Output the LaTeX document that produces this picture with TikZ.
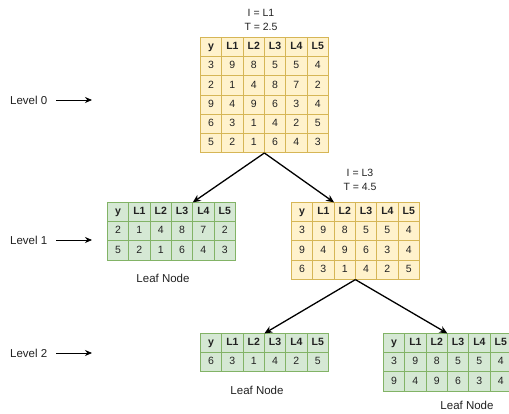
\documentclass[tikz,border=0pt]{standalone}
\usepackage{fontspec}
\setmainfont{Liberation Sans}
\usetikzlibrary{matrix,arrows.meta}
\definecolor{yfill}{HTML}{FFF2CC}
\definecolor{ydraw}{HTML}{D6B656}
\definecolor{gfill}{HTML}{D5E8D4}
\definecolor{gdraw}{HTML}{82B366}
\definecolor{txt}{HTML}{222222}
\tikzset{
  tbl/.style={matrix of nodes, nodes in empty cells, inner sep=0pt, outer sep=0pt,
    column sep=-0.8pt, row sep=-0.8pt, anchor=north west,
    nodes={anchor=center, minimum width=21.33pt, minimum height=19.2pt, inner sep=0pt, outer sep=0pt,
      text height=7.5pt, text depth=2pt,
      font=\fontsize{10.5}{12}\selectfont, line width=0.8pt, text=txt},
    row 1/.style={nodes={font=\fontsize{10.5}{12}\selectfont\bfseries}}},
  ytbl/.style={tbl, nodes={fill=yfill, draw=ydraw}},
  gtbl/.style={tbl, nodes={fill=gfill, draw=gdraw}},
  title/.style={align=center, font=\fontsize{10.5}{13.5}\selectfont, text=txt, inner sep=0pt},
  lbl/.style={font=\fontsize{11.5}{13}\selectfont, text=txt, inner sep=0pt},
  treearrow/.style={line width=1.3pt, -{Stealth[length=8pt,width=7pt]}},
  levarrow/.style={line width=0.8pt, shorten <=9pt, -{Stealth[length=7pt,width=6pt]}}
}
\begin{document}
\begin{tikzpicture}[x=1pt,y=-1pt]
\useasboundingbox[fill=white] (0,0) rectangle (509,414);

% titles
\node[title] (ti0) at (261,20) {I = L1\\T = 2.5};
\node[title] (ti2) at (360,180) {I = L3\\T = 4.5};

% tables
\matrix[ytbl] (t0) at (200,37) {
y & L1 & L2 & L3 & L4 & L5\\
3 & 9 & 8 & 5 & 5 & 4\\
2 & 1 & 4 & 8 & 7 & 2\\
9 & 4 & 9 & 6 & 3 & 4\\
6 & 3 & 1 & 4 & 2 & 5\\
5 & 2 & 1 & 6 & 4 & 3\\
};
\matrix[gtbl] (t1) at (107,202) {
y & L1 & L2 & L3 & L4 & L5\\
2 & 1 & 4 & 8 & 7 & 2\\
5 & 2 & 1 & 6 & 4 & 3\\
};
\matrix[ytbl] (t2) at (291,202) {
y & L1 & L2 & L3 & L4 & L5\\
3 & 9 & 8 & 5 & 5 & 4\\
9 & 4 & 9 & 6 & 3 & 4\\
6 & 3 & 1 & 4 & 2 & 5\\
};
\matrix[gtbl] (t3) at (200,333) {
y & L1 & L2 & L3 & L4 & L5\\
6 & 3 & 1 & 4 & 2 & 5\\
};
\matrix[gtbl] (t4) at (383,333) {
y & L1 & L2 & L3 & L4 & L5\\
3 & 9 & 8 & 5 & 5 & 4\\
9 & 4 & 9 & 6 & 3 & 4\\
};

% leaf labels
\node[lbl] (leaf1) at (163,278) {Leaf Node};
\node[lbl] (leaf3) at (257,390) {Leaf Node};
\node[lbl] (leaf4) at (467,405) {Leaf Node};

% level labels
\node[lbl, anchor=west] (lv0) at (10,100) {Level 0};
\node[lbl, anchor=west] (lv1) at (10,240) {Level 1};
\node[lbl, anchor=west] (lv2) at (10,353) {Level 2};
\coordinate (lv0e) at (92,100);
\coordinate (lv1e) at (92,240);
\coordinate (lv2e) at (92,353);
\draw[levarrow] (lv0.east) -- (lv0e);
\draw[levarrow] (lv1.east) -- (lv1e);
\draw[levarrow] (lv2.east) -- (lv2e);

% tree arrows
\draw[treearrow] (t0.south) -- (t1-1-5.north west);
\draw[treearrow] (t0.south) -- (t2-1-3.north west);
\draw[treearrow] (t2.south) -- (t3-1-4.north west);
\draw[treearrow] (t2.south) -- (t4-1-4.north west);
\end{tikzpicture}
\end{document}
